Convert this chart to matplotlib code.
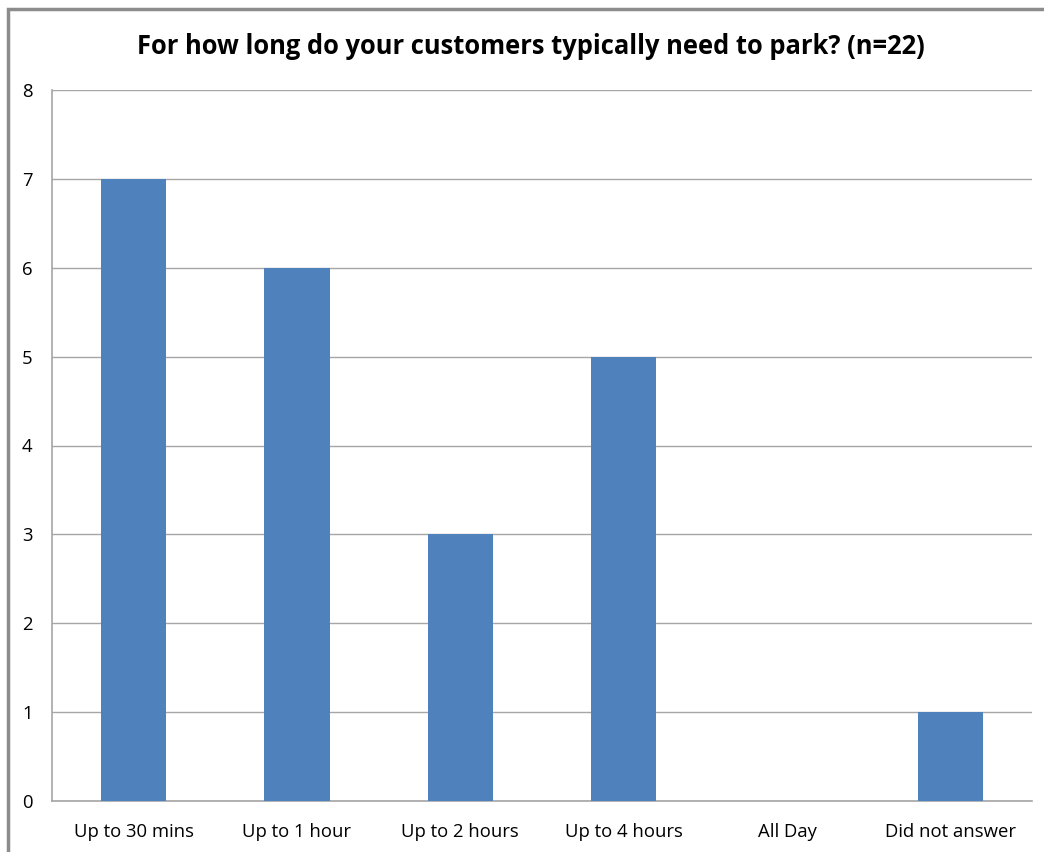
import matplotlib.pyplot as plt
from matplotlib.patches import Rectangle

categories = ['Up to 30 mins', 'Up to 1 hour', 'Up to 2 hours', 'Up to 4 hours', 'All Day', 'Did not answer']
counts = [7, 6, 3, 5, 0, 1]
y_ticks = [0, 1, 2, 3, 4, 5, 6, 7, 8]

plt.rcParams['font.family'] = ['Open Sans', 'DejaVu Sans']

fig = plt.figure(figsize=(10.44, 8.52), dpi=100)
ax = fig.add_axes([52 / 1044, 1 - 801 / 852, 980 / 1044, 711 / 852])

grid_color = '#A6A6A6'
x = range(len(categories))
ax.bar(x, counts, width=0.4, color='#4F81BD', zorder=3)

ax.set_xlim(-0.5, len(categories) - 0.5)
ax.set_ylim(0, 8)
ax.set_yticks(y_ticks)
ax.set_xticks(list(x))
ax.set_xticklabels(categories, fontsize=13.3)
ax.tick_params(axis='y', labelsize=13.3, length=0, pad=14)
ax.tick_params(axis='x', length=0, pad=16)
ax.grid(axis='y', color=grid_color, linewidth=1, zorder=0)

for side in ['top', 'right']:
    ax.spines[side].set_visible(False)
for side in ['left', 'bottom']:
    ax.spines[side].set_color(grid_color)
    ax.spines[side].set_linewidth(1.2)

fig.text(531 / 1044, 1 - 46 / 852, 'For how long do your customers typically need to park? (n=22)',
         ha='center', va='center', fontsize=18.4, fontweight='bold')

# outer chart frame (only top and left edges are visible)
fig.add_artist(Rectangle((8 / 1044, -0.1), 1.2, 1 - 9 / 852 + 0.1, transform=fig.transFigure,
                         fill=False, edgecolor='#8C8C8C', linewidth=2.5))

fig.savefig('out.png', dpi=100)
